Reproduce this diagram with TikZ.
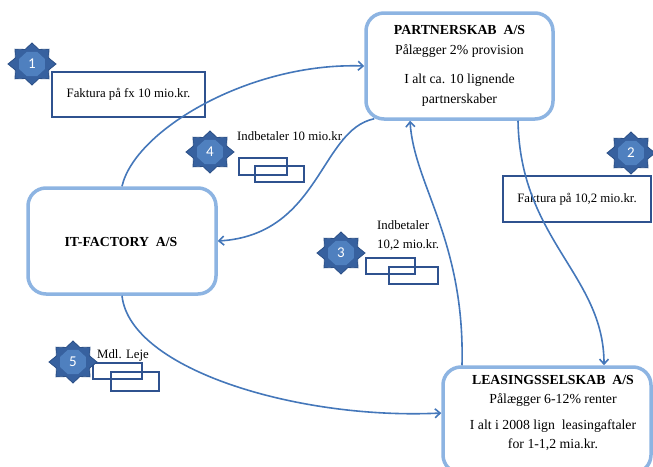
\documentclass[tikz,border=0pt]{standalone}
\usepackage{fontspec}
\setmainfont{Liberation Serif}
\newfontfamily\numfont{Carlito}
\usetikzlibrary{arrows.meta}
\definecolor{boxblue}{HTML}{8DB4E2}
\definecolor{arrowblue}{HTML}{4477BA}
\definecolor{labelblue}{HTML}{2F528F}
\definecolor{starfill}{HTML}{37619F}
\definecolor{starinner}{HTML}{4F80BF}
\definecolor{stardraw}{HTML}{2B4F86}
\newcommand{\starbadge}[4]{%
  \fill[starfill, draw=stardraw, line width=0.8pt, line join=miter] plot[samples at={0,...,15}, variable=\k]
    ({#2+24*ifthenelse(mod(\k,2)==0,1,0.75)*cos(\k*22.5)}, {#3+21*ifthenelse(mod(\k,2)==0,1,0.75)*sin(\k*22.5)}) -- cycle;
  \fill[starinner] plot[samples at={0,...,7}, variable=\k]
    ({#2+14*cos(22.5+\k*45)}, {#3+13*sin(22.5+\k*45)}) -- cycle;
  \node[text=white, font=\numfont\fontsize{15}{15}\selectfont, inner sep=0pt] (#1) at (#2,#3) {#4};
}
\begin{document}
\begin{tikzpicture}[x=1pt,y=-1pt,
  bigbox/.style={draw=boxblue, line width=3.5pt, rounded corners=18pt, fill=white, inner sep=0pt},
  lblbox/.style={draw=labelblue, line width=1.4pt, inner sep=0pt},
  flow/.style={draw=arrowblue, line width=1.6pt, -{Straight Barb[length=5pt,width=9pt]}},
  maintxt/.style={font=\fontsize{13.8}{19.5}\selectfont, align=center, inner sep=0pt},
  lbltxt/.style={font=\fontsize{12.8}{20}\selectfont, inner sep=0pt, anchor=west},
]
\useasboundingbox (0,0) rectangle (653,466);

% main boxes
\node[bigbox, minimum width=187pt, minimum height=106pt] (partner) at (459.5,66) {};
\node[bigbox, minimum width=188pt, minimum height=106pt] (itf) at (122,241) {};
\node[bigbox, minimum width=208pt, minimum height=106pt] (leasing) at (547,420) {};

\node[maintxt] (partnertxt) at (459.5,66) {\textbf{PARTNERSKAB\ \ A/S}\\Pålægger 2\% provision\\[10pt]I alt ca. 10 lignende\\partnerskaber};
\node[maintxt] (itftxt) at (121,242) {\textbf{IT-FACTORY\ \ A/S}};
\node[maintxt] (leasingtxt) at (553,413) {\textbf{LEASINGSSELSKAB\ \ A/S}\\Pålægger 6-12\% renter\\[6pt]I alt i 2008 lign\ \ leasingaftaler\\for 1-1,2 mia.kr.};

% label boxes
\node[lblbox, minimum width=153pt, minimum height=45pt, font=\fontsize{12.8}{15}\selectfont] (fak1) at (128.5,94.5) {Faktura på fx 10 mio.kr.};
\node[lblbox, minimum width=148pt, minimum height=46pt, font=\fontsize{12.8}{15}\selectfont] (fak2) at (577,199) {Faktura på 10,2 mio.kr.};

% double rectangles
\node[lblbox, minimum width=48pt, minimum height=17pt] (r4a) at (263,166.5) {};
\node[lblbox, minimum width=49pt, minimum height=16pt] (r4b) at (279.5,174) {};
\node[lblbox, minimum width=49pt, minimum height=16pt] (r3a) at (390.5,266) {};
\node[lblbox, minimum width=49pt, minimum height=17pt] (r3b) at (413.5,275.5) {};
\node[lblbox, minimum width=49pt, minimum height=16pt] (r5a) at (117.5,371) {};
\node[lblbox, minimum width=48pt, minimum height=19pt] (r5b) at (135,381.5) {};

% labels
\node[lbltxt] (l4) at (237,136) {Indbetaler 10 mio.kr.};
\node[lbltxt] (l3a) at (377,225) {Indbetaler};
\node[lbltxt] (l3b) at (377,245) {10,2 mio.kr.};
\node[lbltxt] (l5) at (97,355) {Mdl. Leje};

% connectors
\draw[flow] (itf.north) .. controls (135,130) and (250,62) .. (partner.west);
\draw[flow] ([xshift=10pt,yshift=2pt]partner.south west) .. controls (320,130) and (320,235) .. (itf.east);
\draw[flow] ([xshift=58.5pt]partner.south) .. controls (520,240) and (604,275) .. ([xshift=57pt]leasing.north);
\draw[flow] ([xshift=-85pt]leasing.north) .. controls (465,240) and (414,185) .. ([xshift=-49.5pt]partner.south);
\draw[flow] (itf.south) .. controls (130,370) and (300,420) .. ([yshift=7pt]leasing.west);

% stars
\starbadge{s1}{32}{64}{1}
\starbadge{s2}{631}{153}{2}
\starbadge{s3}{341}{253}{3}
\starbadge{s4}{210}{152}{4}
\starbadge{s5}{73}{362}{5}
\end{tikzpicture}
\end{document}
